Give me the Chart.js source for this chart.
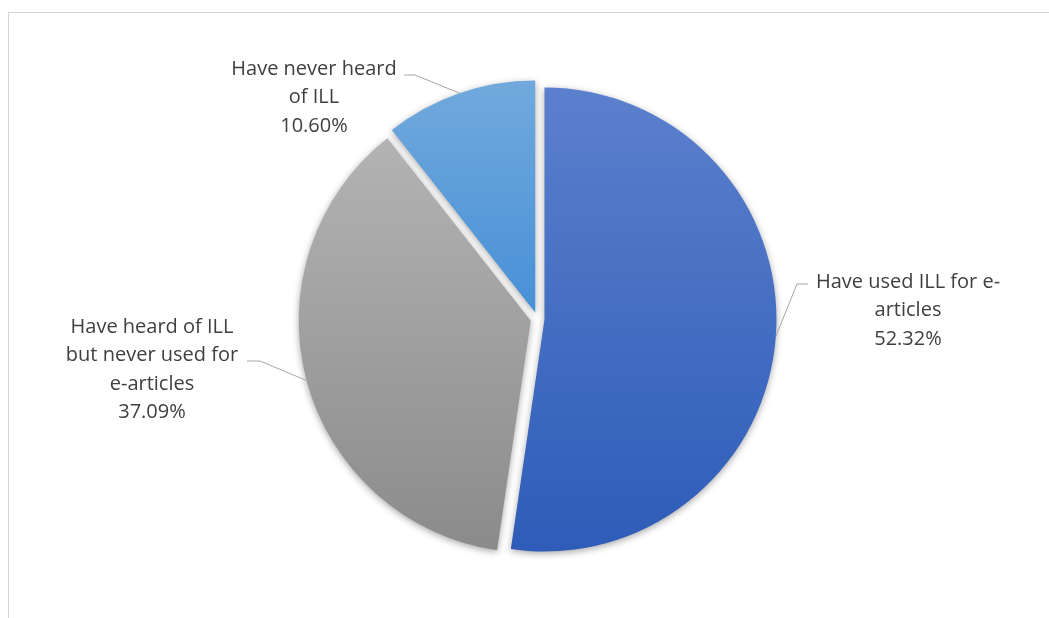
<!DOCTYPE html>
<html>
<head>
<meta charset="utf-8">
<title>ILL awareness</title>
<script src="https://cdn.jsdelivr.net/npm/chart.js@4.4.0/dist/chart.umd.min.js"></script>
<style>
  html, body { margin: 0; padding: 0; background: #fff; overflow: hidden; }
  #wrap { position: relative; width: 1049px; height: 618px; }
  #frame { position: absolute; left: 8px; top: 12px; width: 1100px; height: 700px; border: 1px solid #d4d4d4; box-sizing: border-box; }
  #ch-ill { position: absolute; left: 0; top: 0; }
</style>
</head>
<body>
<div id="wrap">
  <div id="frame"></div>
  <canvas id="ch-ill" width="1049" height="618"></canvas>
</div>
<script>
const categories = [
  ['Have used ILL for e-', 'articles'],
  ['Have heard of ILL', 'but never used for', 'e-articles'],
  ['Have never heard', 'of ILL']
];
const shares = [52.32, 37.09, 10.60];
const topColors = ['#5b80cd', '#b3b3b3', '#71a9dc'];
const bottomColors = ['#2e5cb8', '#8b8b8b', '#4890d8'];

// text block centre / first line, and where each leader line leaves the text
const labelLayout = [
  { x: 908, y: 282, lineX: 808, lineY: 284, elbowX: 797 },
  { x: 152, y: 327, lineX: 247, lineY: 361, elbowX: 260 },
  { x: 314, y: 69, lineX: 404, lineY: 75, elbowX: 415 }
];
const RADIUS = 232;
const EXPLODE = 7;
const LINE_H = 28.5;
const FONT = '20px "Open Sans", Lato, sans-serif';

// vertical gradient spanning the slice's own height
function sliceGradient(context) {
  const { chart, dataIndex: i } = context;
  const area = chart.chartArea;
  if (!area) return topColors[i];
  const total = shares.reduce((a, b) => a + b, 0);
  const before = shares.slice(0, i).reduce((a, b) => a + b, 0);
  const a0 = -Math.PI / 2 + before / total * 2 * Math.PI;
  const a1 = a0 + shares[i] / total * 2 * Math.PI;
  const mid = (a0 + a1) / 2;
  const cy = (area.top + area.bottom) / 2 + EXPLODE * Math.sin(mid);
  const ys = [cy, cy + RADIUS * Math.sin(a0), cy + RADIUS * Math.sin(a1)];
  [-Math.PI / 2, Math.PI / 2, 3 * Math.PI / 2].forEach(a => {
    if (a > a0 && a < a1) ys.push(cy + RADIUS * Math.sin(a));
  });
  const g = chart.ctx.createLinearGradient(0, Math.min(...ys), 0, Math.max(...ys));
  g.addColorStop(0, topColors[i]);
  g.addColorStop(1, bottomColors[i]);
  return g;
}

const pieDecor = {
  id: 'pieDecor',
  afterDatasetsUpdate(chart) {
    // pull every slice out a little along its bisector
    chart.getDatasetMeta(0).data.forEach(arc => {
      const mid = (arc.startAngle + arc.endAngle) / 2;
      arc.x += EXPLODE * Math.cos(mid);
      arc.y += EXPLODE * Math.sin(mid);
    });
  },
  beforeDatasetsDraw(chart) {
    const ctx = chart.ctx;
    ctx.save();
    ctx.shadowColor = 'rgba(0,0,0,0.35)';
    ctx.shadowBlur = 7;
    ctx.shadowOffsetY = 2;
  },
  afterDatasetsDraw(chart) {
    const ctx = chart.ctx;
    ctx.restore();
    ctx.save();
    chart.getDatasetMeta(0).data.forEach((arc, i) => {
      const L = labelLayout[i];
      const mid = (arc.startAngle + arc.endAngle) / 2;
      const ex = arc.x + arc.outerRadius * Math.cos(mid);
      const ey = arc.y + arc.outerRadius * Math.sin(mid);
      ctx.strokeStyle = '#a6a6a6';
      ctx.lineWidth = 1;
      ctx.beginPath();
      ctx.moveTo(L.lineX, L.lineY);
      ctx.lineTo(L.elbowX, L.lineY);
      ctx.lineTo(ex, ey);
      ctx.stroke();

      const lines = [...categories[i], shares[i].toFixed(2) + '%'];
      ctx.font = FONT;
      ctx.fillStyle = '#404040';
      ctx.textAlign = 'center';
      ctx.textBaseline = 'middle';
      lines.forEach((t, k) => ctx.fillText(t, L.x, L.y + k * LINE_H));
    });
    ctx.restore();
  }
};

new Chart(document.getElementById('ch-ill'), {
  type: 'pie',
  data: {
    labels: categories.map(c => c.join(' ')),
    datasets: [{
      data: shares,
      backgroundColor: sliceGradient,
      borderWidth: 0,
      radius: RADIUS
    }]
  },
  options: {
    responsive: false,
    animation: false,
    layout: { padding: { left: 26, right: 0, top: 20, bottom: 0 } },
    plugins: { legend: { display: false }, tooltip: { enabled: false } }
  },
  plugins: [pieDecor]
});
</script>
</body>
</html>
